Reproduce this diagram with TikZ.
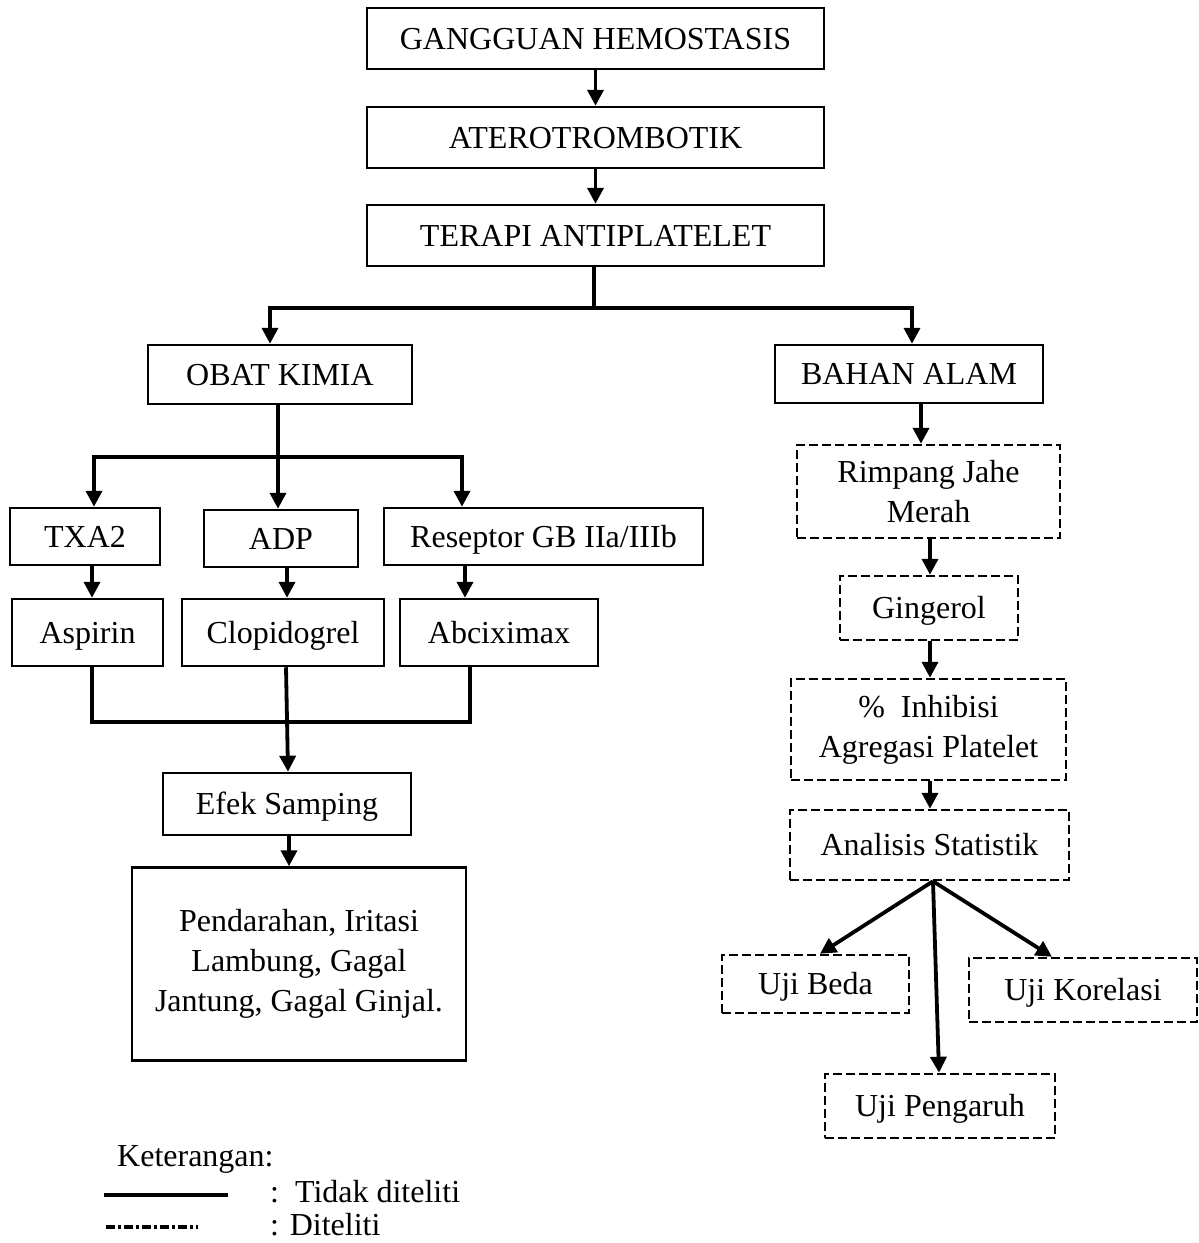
\documentclass[tikz,border=0pt]{standalone}
\usepackage{fontspec}
\setmainfont{Liberation Serif}
\usetikzlibrary{positioning, arrows.meta}
\tikzset{
  kotakdasar/.style={draw, line width=2.5pt, inner sep=0pt, align=center, font=\fontsize{32}{40}\selectfont},
  kotak/.style={kotakdasar, text height=28pt, text depth=7pt},
  kotakdash/.style={kotak, dash pattern=on 9pt off 4pt},
  kotakml/.style={kotakdasar, dash pattern=on 9pt off 4pt},
  panah/.style={line width=3.8pt, -{Triangle[length=16pt,width=16pt]}},
  garis/.style={line width=3.8pt},
  teks/.style={inner sep=0pt, font=\fontsize{32}{40}\selectfont},
}
\begin{document}
\begin{tikzpicture}[x=1pt,y=-1pt]
            \useasboundingbox (0,0) rectangle (1199,1243);
            % alur utama
            \node[kotak, minimum width=457, minimum height=61] (gh) at (595.5,38.5) {GANGGUAN HEMOSTASIS};
            \node[kotak, minimum width=457, minimum height=61] (ate) at (595.5,137.5) {ATEROTROMBOTIK};
            \node[kotak, minimum width=457, minimum height=61] (ter) at (595.5,235.5) {TERAPI ANTIPLATELET};
            \draw[panah] (gh.south) -- (ate.north);
            \draw[panah] (ate.south) -- (ter.north);
            % cabang
            \node[kotak, minimum width=264, minimum height=59] (obat) at (280,374.5) {OBAT KIMIA};
            \node[kotak, minimum width=268, minimum height=58] (bahan) at (909,374) {BAHAN ALAM};
            \coordinate (j1) at (594,308);
            \draw[garis] (ter.south -| j1) -- (j1);
            \draw[panah] (j1) -| ([xshift=-10]obat.north);
            \draw[panah] (j1) -| ([xshift=3]bahan.north);
            % obat kimia
            \node[kotak, minimum width=150, minimum height=57] (txa) at (85,536.5) {TXA2};
            \node[kotak, minimum width=154, minimum height=57] (adp) at (281,538.5) {ADP};
            \node[kotak, minimum width=319, minimum height=57] (res) at (543.5,536.5) {Reseptor GB IIa/IIIb};
            \coordinate (j2) at (278,457);
            \draw[garis] (obat.south -| j2) -- (j2);
            \draw[panah] (j2) -| ([xshift=9]txa.north);
            \draw[panah] (j2) -- (adp.north -| j2);
            \draw[panah] (j2) -| ([xshift=-81.5]res.north);
            \node[kotak, minimum width=151, minimum height=67] (asp) at (87.5,632.5) {Aspirin};
            \node[kotak, minimum width=202, minimum height=67] (clo) at (283,632.5) {Clopidogrel};
            \node[kotak, minimum width=198, minimum height=67] (abc) at (499,632.5) {Abciximax};
            \draw[panah] ([xshift=7]txa.south) -- ([xshift=4.5]asp.north);
            \draw[panah] ([xshift=6]adp.south) -- ([xshift=4]clo.north);
            \draw[panah] ([xshift=-78.5]res.south) -- ([xshift=-34]abc.north);
            \node[kotak, minimum width=248, minimum height=62] (efek) at (287,804) {Efek Samping};
            \node[kotakdasar, minimum width=334, minimum height=193] (pend) at (299,964) {Pendarahan, Iritasi\\Lambung, Gagal\\Jantung, Gagal Ginjal.};
            \coordinate (j3) at (286,722);
            \draw[garis] ([xshift=4.5]asp.south) |- (j3);
            \draw[garis] ([xshift=-29]abc.south) |- (j3);
            \draw[panah] ([xshift=3]clo.south) -- ([xshift=1]efek.north);
            \draw[panah] ([xshift=2]efek.south) -- ([xshift=-10]pend.north);
            % bahan alam
            \node[kotakml, minimum width=263, minimum height=93] (rim) at (928.5,491.5) {Rimpang Jahe\\Merah};
            \node[kotakdash, minimum width=178, minimum height=64] (gin) at (929,608) {Gingerol};
            \node[kotakml, minimum width=275, minimum height=101] (inh) at (928.5,729.5) {\%\ \ Inhibisi\\Agregasi Platelet};
            \node[kotakdash, minimum width=279, minimum height=70] (ana) at (929.5,845) {Analisis Statistik};
            \draw[panah] ([xshift=12]bahan.south) -- ([xshift=-7.5]rim.north);
            \draw[panah] ([xshift=1.5]rim.south) -- ([xshift=1]gin.north);
            \draw[panah] ([xshift=1]gin.south) -- ([xshift=1.5]inh.north);
            \draw[panah] ([xshift=1.5]inh.south) -- ([xshift=0.5]ana.north);
            \node[kotakdash, minimum width=187, minimum height=58] (beda) at (815.5,984) {Uji Beda};
            \node[kotakdash, minimum width=228, minimum height=64] (kor) at (1083,990) {Uji Korelasi};
            \node[kotakdash, minimum width=230, minimum height=64] (peng) at (940,1106) {Uji Pengaruh};
            \draw[panah] ([xshift=3.5]ana.south) -- ([xshift=4.5]beda.north);
            \draw[panah] ([xshift=3.5]ana.south) -- ([xshift=-31]kor.north);
            \draw[panah] ([xshift=3.5]ana.south) -- ([xshift=-1]peng.north);
            % keterangan
            \node[teks, anchor=west] (ket) at (117,1159) {Keterangan:};
            \coordinate (s1) at (104,1195);
            \coordinate (s2) at (228,1195);
            \draw[garis] (s1) -- (s2);
            \node[teks, anchor=west] (tid) at (270,1192) {:\ \ Tidak diteliti};
            \coordinate (d1) at (106,1227);
            \coordinate (d2) at (198,1227);
            \draw[line width=4.5pt, dash pattern=on 9pt off 3pt on 3pt off 3pt] (d1) -- (d2);
            \node[teks, anchor=west] (dit) at (270,1225) {: Diteliti};
        \end{tikzpicture}
\end{document}
